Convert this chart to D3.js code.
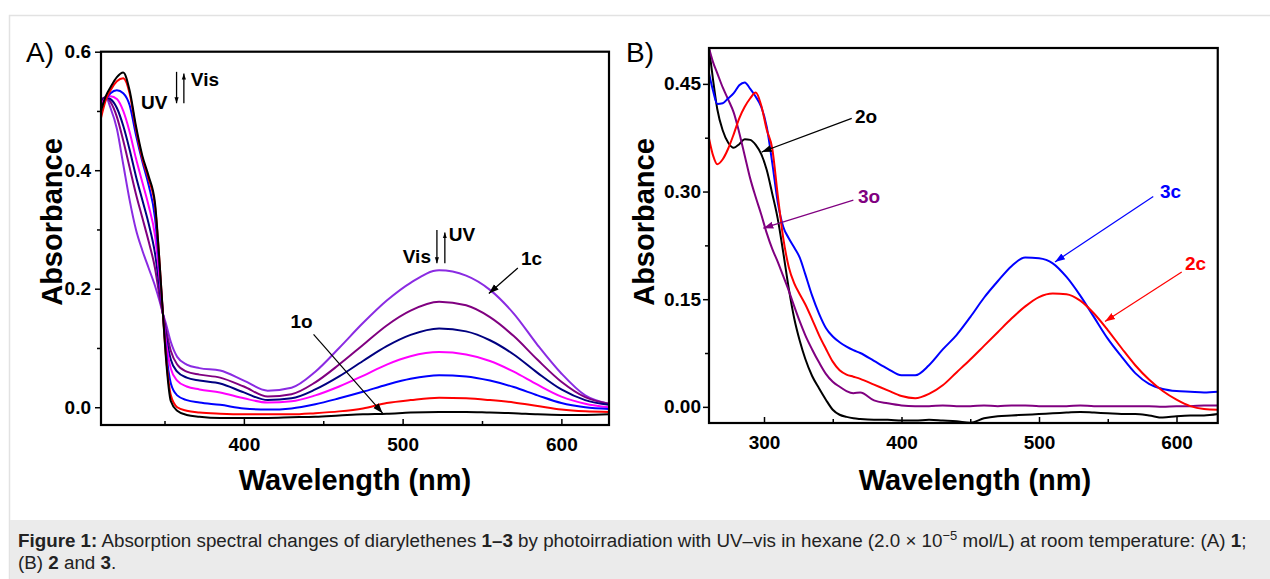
<!DOCTYPE html>
<html>
<head>
<meta charset="utf-8">
<script src="https://cdn.jsdelivr.net/npm/d3@7"></script>
<style>
  body { margin: 0; background: #fff; }
  svg { display: block; font-family: "Liberation Sans", Arial, sans-serif; }
</style>
</head>
<body>
<svg id="chart" width="1270" height="579"></svg>
<script>
// Panel A: compound 1, spectra during UV irradiation (1o -> 1c)
const wlA = [310, 313, 316, 320, 324, 328, 332, 336, 340, 344, 347, 349, 351, 354, 358, 364, 372, 385,
  400, 415, 430, 445, 460, 475, 490, 505, 523, 540, 555, 570, 585, 600, 615, 630];
const a0 = [0.500, 0.525, 0.540, 0.557, 0.565, 0.535, 0.475, 0.425, 0.390, 0.345, 0.240, 0.158, 0.080, 0.010, -0.006, -0.013, -0.016, -0.018,
  -0.018, -0.018, -0.017, -0.016, -0.014, -0.012, -0.011, -0.009, -0.008, -0.008, -0.009, -0.010, -0.012, -0.013, -0.013, -0.012];
const a1 = [0.488, 0.518, 0.535, 0.550, 0.555, 0.530, 0.470, 0.420, 0.385, 0.340, 0.240, 0.158, 0.085, 0.020, 0.000, -0.006, -0.009, -0.011,
  -0.012, -0.012, -0.012, -0.010, -0.007, -0.002, 0.007, 0.012, 0.016, 0.015, 0.012, 0.008, 0.002, -0.004, -0.007, -0.008];
const a2 = [0.505, 0.520, 0.530, 0.535, 0.530, 0.510, 0.460, 0.415, 0.375, 0.320, 0.230, 0.158, 0.095, 0.040, 0.020, 0.012, 0.008, 0.004,
  -0.002, -0.004, -0.002, 0.005, 0.015, 0.026, 0.038, 0.048, 0.054, 0.052, 0.045, 0.034, 0.020, 0.007, 0.000, -0.003];
const a3 = [0.510, 0.522, 0.525, 0.520, 0.500, 0.465, 0.420, 0.380, 0.340, 0.290, 0.215, 0.158, 0.110, 0.065, 0.045, 0.035, 0.030, 0.025,
  0.015, 0.008, 0.010, 0.020, 0.035, 0.053, 0.072, 0.086, 0.093, 0.089, 0.078, 0.060, 0.038, 0.018, 0.006, 0.000];
const a4 = [0.515, 0.523, 0.520, 0.505, 0.475, 0.435, 0.390, 0.350, 0.310, 0.260, 0.200, 0.158, 0.120, 0.080, 0.060, 0.050, 0.045, 0.040,
  0.025, 0.012, 0.015, 0.030, 0.052, 0.078, 0.103, 0.122, 0.133, 0.128, 0.113, 0.089, 0.058, 0.030, 0.012, 0.004];
const a5 = [0.520, 0.523, 0.515, 0.490, 0.450, 0.405, 0.360, 0.320, 0.280, 0.235, 0.185, 0.158, 0.130, 0.095, 0.072, 0.060, 0.055, 0.050,
  0.035, 0.018, 0.022, 0.042, 0.072, 0.105, 0.138, 0.163, 0.178, 0.172, 0.152, 0.120, 0.080, 0.043, 0.017, 0.006];
const a6 = [0.515, 0.523, 0.505, 0.470, 0.410, 0.350, 0.300, 0.265, 0.235, 0.205, 0.178, 0.158, 0.140, 0.110, 0.085, 0.072, 0.066, 0.062,
  0.045, 0.028, 0.033, 0.060, 0.100, 0.142, 0.180, 0.210, 0.231, 0.222, 0.198, 0.158, 0.105, 0.057, 0.020, 0.006];
const colorsA = ["#8a2be2", "#800080", "#000080", "#ff00ff", "#0000ff", "#ff0000", "#000000"];
const seriesA = [a6, a5, a4, a3, a2, a1, a0];

// Panel B: compounds 2 and 3, open and closed forms
const wlB = [260, 263, 266, 270, 274, 278, 282, 286, 290, 294, 298, 302, 306, 310, 314, 318, 322, 326, 330, 335,
  340, 345, 350, 355, 360, 365, 370, 380, 390, 400, 410, 420, 430, 440, 450, 460, 470, 480, 490, 500,
  510, 520, 530, 540, 550, 560, 570, 580, 590, 600, 610, 620, 630];
const b2o = [0.500, 0.455, 0.415, 0.385, 0.368, 0.361, 0.366, 0.373, 0.372, 0.365, 0.352, 0.330, 0.297, 0.262, 0.215, 0.165, 0.123, 0.092, 0.067, 0.043,
  0.026, 0.010, -0.004, -0.011, -0.014, -0.016, -0.017, -0.018, -0.018, -0.019, -0.019, -0.018, -0.019, -0.020, -0.022, -0.016, -0.013, -0.012, -0.011, -0.010,
  -0.009, -0.008, -0.007, -0.008, -0.009, -0.010, -0.010, -0.012, -0.015, -0.013, -0.012, -0.012, -0.010];
const b3o = [0.500, 0.480, 0.465, 0.445, 0.428, 0.410, 0.382, 0.350, 0.318, 0.292, 0.268, 0.242, 0.220, 0.202, 0.182, 0.162, 0.140, 0.119, 0.100, 0.080,
  0.062, 0.046, 0.035, 0.028, 0.022, 0.019, 0.020, 0.009, 0.005, 0.002, 0.001, 0.001, 0.002, 0.001, 0.001, 0.002, 0.001, 0.002, 0.002, 0.001,
  0.001, 0.001, 0.002, 0.001, 0.001, 0.001, 0.001, 0.001, 0.000, 0.001, 0.001, 0.002, 0.002];
const b3c = [0.465, 0.440, 0.422, 0.423, 0.430, 0.437, 0.448, 0.452, 0.443, 0.432, 0.418, 0.390, 0.340, 0.285, 0.251, 0.235, 0.222, 0.208, 0.185, 0.155,
  0.130, 0.110, 0.098, 0.090, 0.084, 0.079, 0.075, 0.064, 0.053, 0.044, 0.044, 0.058, 0.080, 0.100, 0.125, 0.152, 0.175, 0.196, 0.208, 0.207,
  0.200, 0.181, 0.155, 0.125, 0.095, 0.070, 0.047, 0.032, 0.025, 0.022, 0.021, 0.020, 0.021];
const b2c = [0.374, 0.350, 0.338, 0.345, 0.360, 0.380, 0.402, 0.418, 0.430, 0.438, 0.420, 0.386, 0.360, 0.295, 0.235, 0.195, 0.172, 0.157, 0.143, 0.122,
  0.100, 0.081, 0.063, 0.051, 0.045, 0.042, 0.039, 0.031, 0.023, 0.015, 0.012, 0.018, 0.030, 0.048, 0.066, 0.085, 0.104, 0.123, 0.140, 0.153,
  0.158, 0.157, 0.148, 0.130, 0.107, 0.082, 0.058, 0.038, 0.022, 0.010, 0.001, -0.003, -0.004];
const colorsB = ["#000000", "#800080", "#0000ff", "#ff0000"];
const seriesB = [b2o, b3o, b3c, b2c];

// tick labels
const xMajorA = [400, 500, 600], xMinorA = [350, 450, 550];
const yMajorA = [0, 0.2, 0.4, 0.6], yMinorA = [0.1, 0.3, 0.5];
const xMajorB = [300, 400, 500, 600], xMinorB = [350, 450, 550];
const yMajorB = [0, 0.15, 0.30, 0.45], yMinorB = [0.075, 0.225, 0.375];

// annotations, in data units
const labelsA = [
  { t: "UV", at: [335.2, 0.504] }, { t: "Vis", at: [366.6, 0.542] },
  { t: "Vis", at: [500.1, 0.243] }, { t: "UV", at: [529.1, 0.280] },
  { t: "1c", at: [574.5, 0.240] }, { t: "1o", at: [429.4, 0.133] }
];
const arrowsA = [
  { from: [357.6, 0.566], to: [357.6, 0.513], c: "#000", small: true },
  { from: [362.2, 0.513], to: [362.2, 0.563], c: "#000", small: true },
  { from: [521.6, 0.299], to: [521.6, 0.243], c: "#000", small: true },
  { from: [526.6, 0.243], to: [526.6, 0.295], c: "#000", small: true },
  { from: [572.6, 0.235], to: [554.3, 0.192], c: "#000" },
  { from: [443.9, 0.123], to: [487.4, -0.010], c: "#000" }
];
const labelsB = [
  { t: "2o", at: [366.2, 0.395], c: "#000" }, { t: "3o", at: [368.4, 0.284], c: "#800080" },
  { t: "3c", at: [588.0, 0.291], c: "#0000ff" }, { t: "2c", at: [606.2, 0.190], c: "#ff0000" }
];
const arrowsB = [
  { from: [363.8, 0.402], to: [298.3, 0.355], c: "#000" },
  { from: [365.0, 0.288], to: [299.5, 0.249], c: "#800080" },
  { from: [583.1, 0.293], to: [511.6, 0.202], c: "#0000ff" },
  { from: [603.8, 0.188], to: [548.0, 0.119], c: "#ff0000" }
];

const svg = d3.select("#chart");

// outer figure frame and caption band
svg.append("rect").attr("x", 9.5).attr("y", 15.5).attr("width", 1300).attr("height", 600)
  .attr("fill", "#fff").attr("stroke", "#e2e2e2").attr("stroke-width", 1.5);
svg.append("rect").attr("x", 10).attr("y", 520).attr("width", 1270).attr("height", 70).attr("fill", "#ebebeb");

const defs = svg.append("defs");
function marker(color, small) {
  const id = "m" + color.replace("#", "") + (small ? "s" : "");
  if (defs.select("#" + id).empty()) {
    defs.append("marker").attr("id", id)
      .attr("viewBox", "0 0 10 10").attr("refX", 10).attr("refY", 5)
      .attr("markerUnits", "userSpaceOnUse")
      .attr("markerWidth", small ? 6 : 10).attr("markerHeight", small ? 6 : 10)
      .attr("orient", "auto")
      .append("path").attr("d", "M0,1.5L10,5L0,8.5Z").attr("fill", color);
  }
  return "url(#" + id + ")";
}

function drawPanel(p) {
  const x = d3.scaleLinear().domain(p.xDomain).range([p.left, p.right]);
  const y = d3.scaleLinear().domain(p.yDomain).range([p.bottom, p.top]);
  const g = svg.append("g");

  defs.append("clipPath").attr("id", p.id + "clip").append("rect")
    .attr("x", p.left).attr("y", p.top).attr("width", p.right - p.left).attr("height", p.bottom - p.top);

  const line = d3.line().x(d => x(d[0])).y(d => y(d[1])).curve(d3.curveMonotoneX);
  g.append("g").attr("clip-path", `url(#${p.id}clip)`)
    .selectAll("path").data(p.series).join("path")
    .attr("d", s => line(p.wl.map((w, i) => [w, s[i]])))
    .attr("fill", "none").attr("stroke", (s, i) => p.colors[i])
    .attr("stroke-width", 2).attr("stroke-linejoin", "round");

  const tickFont = sel => sel.selectAll("text")
    .attr("font-size", 19).attr("font-weight", "bold").attr("fill", "#000")
    .attr("font-family", "Liberation Sans, Arial, sans-serif");

  // x axis, ticks pointing into the plot
  g.append("g").attr("transform", `translate(0,${p.bottom})`)
    .call(d3.axisBottom(x).tickValues(p.xMajor).tickFormat(d3.format("d"))
      .tickSizeInner(-6).tickSizeOuter(0).tickPadding(13))
    .call(a => a.select(".domain").remove())
    .call(a => a.selectAll("line").attr("stroke-width", 1.5))
    .call(tickFont);
  g.append("g").attr("transform", `translate(0,${p.bottom})`)
    .call(d3.axisBottom(x).tickValues(p.xMinor).tickFormat("").tickSizeInner(-4).tickSizeOuter(0))
    .call(a => a.select(".domain").remove())
    .call(a => a.selectAll("line").attr("stroke-width", 1.5));

  // y axis, ticks pointing out
  g.append("g").attr("transform", `translate(${p.left},0)`)
    .call(d3.axisLeft(y).tickValues(p.yMajor).tickFormat(d3.format(p.yFormat))
      .tickSizeInner(6).tickSizeOuter(0).tickPadding(p.yPad))
    .call(a => a.select(".domain").remove())
    .call(a => a.selectAll("line").attr("stroke-width", 1.5))
    .call(tickFont);
  g.append("g").attr("transform", `translate(${p.left},0)`)
    .call(d3.axisLeft(y).tickValues(p.yMinor).tickFormat("").tickSizeInner(4).tickSizeOuter(0))
    .call(a => a.select(".domain").remove())
    .call(a => a.selectAll("line").attr("stroke-width", 1.5));

  g.append("rect").attr("x", p.left).attr("y", p.top)
    .attr("width", p.right - p.left).attr("height", p.bottom - p.top)
    .attr("fill", "none").attr("stroke", "#000").attr("stroke-width", 2.2);

  // axis titles
  g.append("text").attr("x", p.xTitleX).attr("y", 490).attr("text-anchor", "middle")
    .attr("font-size", 29).attr("font-weight", "bold").text("Wavelength (nm)");
  g.append("text").attr("transform", `translate(${p.yTitleX},222) rotate(-90)`)
    .attr("text-anchor", "middle").attr("font-size", 29).attr("font-weight", "bold").text("Absorbance");
  g.append("text").attr("x", p.tagX).attr("y", 62).attr("font-size", 28).text(p.tag);

  // arrows and labels
  g.selectAll(".arrow").data(p.arrows).join("line")
    .attr("x1", d => x(d.from[0])).attr("y1", d => y(d.from[1]))
    .attr("x2", d => x(d.to[0])).attr("y2", d => y(d.to[1]))
    .attr("stroke", d => d.c).attr("stroke-width", d => d.small ? 1.3 : 1.2)
    .attr("marker-end", d => marker(d.c, d.small));
  g.selectAll(".lab").data(p.labels).join("text")
    .attr("x", d => x(d.at[0])).attr("y", d => y(d.at[1]))
    .attr("font-size", 19).attr("font-weight", "bold").attr("fill", d => d.c || "#000")
    .text(d => d.t);
}

drawPanel({
  id: "A", wl: wlA, series: seriesA, colors: colorsA,
  xDomain: [310, 630], yDomain: [-0.03, 0.6],
  left: 101, right: 609, top: 51.7, bottom: 425,
  xMajor: xMajorA, xMinor: xMinorA, yMajor: yMajorA, yMinor: yMinorA,
  yFormat: ".1f", yPad: 4, xTitleX: 355, yTitleX: 62, tag: "A)", tagX: 26,
  labels: labelsA, arrows: arrowsA
});
drawPanel({
  id: "B", wl: wlB, series: seriesB, colors: colorsB,
  xDomain: [260, 630], yDomain: [-0.0225, 0.5],
  left: 709, right: 1217.75, top: 48, bottom: 423,
  xMajor: xMajorB, xMinor: xMinorB, yMajor: yMajorB, yMinor: yMinorB,
  yFormat: ".2f", yPad: 2, xTitleX: 975, yTitleX: 654, tag: "B)", tagX: 626,
  labels: labelsB, arrows: arrowsB
});

// caption
const capSize = 18.8;
const cap = svg.append("text").attr("x", 18).attr("y", 547).attr("font-size", capSize).attr("fill", "#222");
cap.append("tspan").attr("font-weight", "bold").text("Figure 1:");
cap.append("tspan").text(" Absorption spectral changes of diarylethenes ");
cap.append("tspan").attr("font-weight", "bold").text("1–3");
cap.append("tspan").text(" by photoirradiation with UV–vis in hexane (2.0 × 10");
cap.append("tspan").attr("font-size", 13).attr("dy", -7).text("−5");
cap.append("tspan").attr("dy", 7).text(" mol/L) at room temperature: (A) ");
cap.append("tspan").attr("font-weight", "bold").text("1");
cap.append("tspan").text(";");
const cap2 = svg.append("text").attr("x", 18).attr("y", 569).attr("font-size", capSize).attr("fill", "#222");
cap2.append("tspan").text("(B) ");
cap2.append("tspan").attr("font-weight", "bold").text("2");
cap2.append("tspan").text(" and ");
cap2.append("tspan").attr("font-weight", "bold").text("3");
cap2.append("tspan").text(".");
</script>
</body>
</html>
